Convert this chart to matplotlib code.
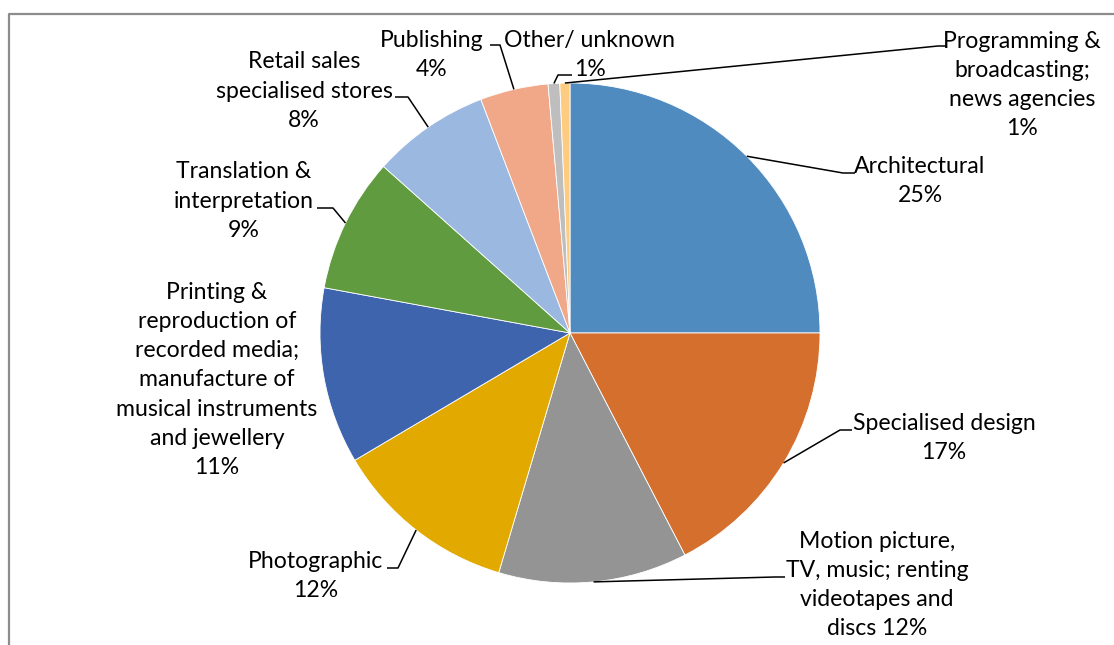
import numpy as np
import matplotlib
matplotlib.use("Agg")
import matplotlib.pyplot as plt

# Share of creative-industry enterprises by sub-sector (%)
categories = [
    "Architectural",
    "Specialised design",
    "Motion picture,\nTV, music; renting\nvideotapes and\ndiscs",
    "Photographic",
    "Printing &\nreproduction of\nrecorded media;\nmanufacture of\nmusical instruments\nand jewellery",
    "Translation &\ninterpretation",
    "Retail sales\nspecialised stores",
    "Publishing",
    "Other/ unknown",
    "Programming &\nbroadcasting;\nnews agencies",
]
shares = [25.0, 17.4, 12.2, 11.9, 11.4, 8.7, 7.6, 4.4, 0.75, 0.65]
colors = ["#4F8BBF", "#D46F2D", "#949494", "#E2AA00", "#3E64AD",
          "#619B3F", "#9BB9E0", "#F1A889", "#BEBEBE", "#FDCC80"]

W, H = 1114, 645
CX, CY, R = 570, 333, 250

fig = plt.figure(figsize=(W / 100, H / 100), dpi=100)
ax = fig.add_axes([0, 0, 1, 1])

ax.pie(shares, colors=colors, startangle=90, counterclock=False,
       center=(CX, H - CY), radius=R,
       wedgeprops=dict(edgecolor="white", linewidth=0.6))
ax.set_xlim(0, W)
ax.set_ylim(0, H)
ax.set_aspect("equal")
ax.axis("off")

font = dict(family=["Lato", "DejaVu Sans"], fontsize=16.6, color="black")

# label centre (px from top-left), separator between name and value,
# leader elbow and leader end (px), or None when no leader is drawn
layout = [
    ((920, 181), "\n", (843, 173), (855, 173)),
    ((944, 438), "\n", (840, 430), (852, 430)),
    ((877, 585), " ", (775, 577), (785, 577)),
    ((316, 576), "\n", (398, 568), (387, 568)),
    ((217, 380), "\n", None, None),
    ((244, 201), "\n", (333, 208), (317, 208)),
    ((304, 91), "\n", (408, 97), (395, 97)),
    ((432, 55), "\n", (500, 45), (490, 45)),
    ((590, 55), "\n", (558, 75), (572, 75)),
    ((1022, 85), "\n", (938, 46), (947, 46)),
]

cum = 0.0
total = sum(shares)
for name, val, (pos, sep, elbow, end) in zip(categories, shares, layout):
    mid = 90 - (cum + val / 2) / total * 360
    cum += val
    label = f"{name}{sep}{round(val)}%"
    ax.text(pos[0], H - pos[1], label, ha="center", va="center",
            multialignment="center", linespacing=1.48, **font)
    if elbow is not None:
        sx = CX + R * np.cos(np.radians(mid))
        sy = H - CY + R * np.sin(np.radians(mid))
        ax.plot([sx, elbow[0], end[0]], [sy, H - elbow[1], H - end[1]],
                color="black", lw=1.1, solid_capstyle="butt")

# chart-area frame
ax.plot([9, 9, W + 5], [-5, H - 14, H - 14], color="#8C8C8C", lw=1.6,
        clip_on=False)

fig.savefig("out.png", dpi=100)
